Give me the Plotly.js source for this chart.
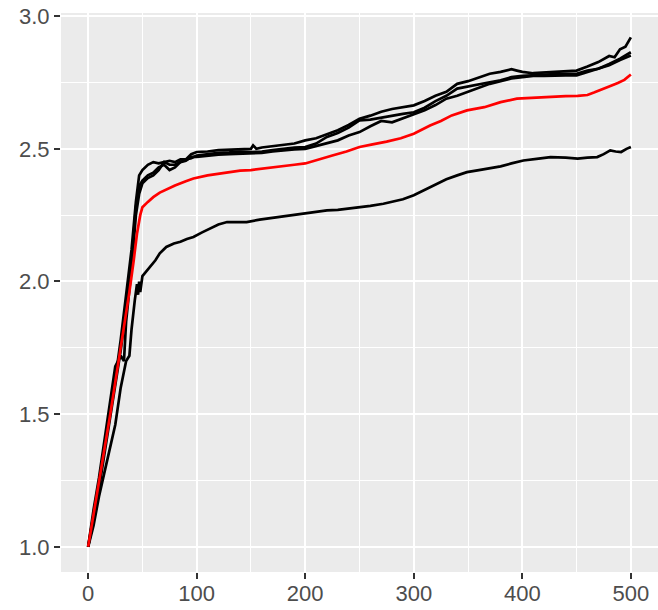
<!DOCTYPE html>
<html>
<head>
<meta charset="utf-8">
<script src="https://cdn.plot.ly/plotly-3.0.1.min.js"></script>
<style>html,body{margin:0;padding:0;background:#fff}#chart{width:658px;height:610px}</style>
</head>
<body>
<div id="chart"></div>
<script>
// Series A (top line at the end)
const xA = [0,5,10,15,20,25,30,35,40,44,47,50,55,60,65,70,75,80,85,90,95,100,110,120,130,140,150,152,155,160,170,180,190,200,210,220,230,240,250,260,270,280,290,300,310,320,330,340,350,360,370,380,390,395,400,410,420,430,440,450,460,470,480,485,490,495,500];
const yA = [1.00,1.12,1.24,1.38,1.50,1.63,1.78,1.95,2.12,2.30,2.40,2.42,2.44,2.45,2.445,2.45,2.455,2.45,2.46,2.46,2.48,2.488,2.49,2.495,2.497,2.50,2.50,2.513,2.50,2.505,2.51,2.515,2.52,2.532,2.54,2.555,2.57,2.59,2.613,2.625,2.64,2.65,2.658,2.664,2.68,2.70,2.715,2.745,2.755,2.77,2.783,2.79,2.80,2.795,2.79,2.785,2.788,2.79,2.792,2.795,2.81,2.827,2.85,2.845,2.875,2.885,2.92];

// Series B
const xB = [0,5,10,15,20,25,30,35,40,44,47,50,55,60,65,70,75,80,85,90,95,100,110,120,130,140,150,160,170,180,190,200,210,220,230,240,250,260,270,280,290,300,310,320,330,340,350,360,370,380,390,400,410,420,430,440,450,460,470,480,490,500];
const yB = [1.00,1.10,1.22,1.35,1.47,1.60,1.74,1.90,2.08,2.28,2.36,2.38,2.40,2.41,2.43,2.44,2.42,2.43,2.45,2.46,2.465,2.475,2.48,2.485,2.487,2.49,2.488,2.49,2.495,2.50,2.505,2.507,2.52,2.545,2.56,2.58,2.607,2.61,2.618,2.625,2.632,2.638,2.655,2.68,2.70,2.727,2.735,2.745,2.751,2.758,2.77,2.775,2.778,2.78,2.782,2.783,2.783,2.795,2.802,2.82,2.84,2.864];

// Series C
const xC = [0,5,10,15,20,25,30,33,35,40,44,47,50,55,60,65,70,75,80,85,90,95,100,110,120,130,140,150,160,170,180,190,200,210,220,230,240,250,260,270,280,290,300,310,320,330,340,350,360,370,380,390,400,410,420,430,440,450,460,470,480,490,500];
const yC = [1.00,1.14,1.26,1.40,1.55,1.68,1.72,1.70,1.85,2.05,2.25,2.33,2.37,2.39,2.40,2.42,2.45,2.44,2.44,2.45,2.455,2.47,2.47,2.475,2.478,2.48,2.482,2.482,2.485,2.49,2.495,2.498,2.50,2.51,2.52,2.532,2.55,2.563,2.585,2.605,2.60,2.615,2.632,2.645,2.665,2.689,2.70,2.715,2.73,2.745,2.755,2.765,2.77,2.775,2.775,2.777,2.777,2.777,2.79,2.80,2.815,2.835,2.852];

// Series D (bottom line)
const xD = [0,5,10,15,20,25,30,35,38,40,43,45,46,47,48,50,53,57,62,66,72,79,85,91,97,105,112,120,128,135,146,158,170,180,190,199,210,220,230,242,250,260,272,280,290,300,310,318,330,340,349,360,370,380,390,401,415,426,440,451,460,469,475,481,486,491,496,500];
const yD = [1.00,1.08,1.19,1.28,1.38,1.46,1.60,1.70,1.72,1.82,1.93,1.99,1.95,2.00,1.96,2.02,2.035,2.055,2.08,2.106,2.13,2.143,2.15,2.16,2.168,2.185,2.20,2.215,2.224,2.225,2.224,2.233,2.24,2.245,2.25,2.256,2.262,2.268,2.27,2.275,2.28,2.285,2.293,2.30,2.31,2.325,2.345,2.362,2.385,2.40,2.412,2.42,2.428,2.434,2.445,2.456,2.463,2.469,2.467,2.463,2.467,2.469,2.48,2.494,2.49,2.488,2.50,2.507];

// Red series (average)
const xR = [0,5,10,15,20,25,30,35,38,42,45,48,50,55,60,66,73,80,90,97,110,128,140,150,159,175,190,200,212,225,238,250,262,275,288,300,315,325,335,349,365,380,395,410,426,440,451,460,466,472,480,488,494,500];
const yR = [1.00,1.12,1.24,1.37,1.49,1.62,1.75,1.87,1.96,2.08,2.18,2.25,2.28,2.30,2.318,2.335,2.35,2.362,2.378,2.388,2.40,2.412,2.418,2.42,2.425,2.432,2.44,2.445,2.458,2.475,2.49,2.507,2.517,2.527,2.54,2.557,2.588,2.605,2.626,2.645,2.657,2.676,2.689,2.693,2.697,2.699,2.70,2.703,2.712,2.723,2.735,2.748,2.76,2.78];

const xTicks = [0,100,200,300,400,500];
const yTicks = [1.0,1.5,2.0,2.5,3.0];
const yTickText = ['1.0','1.5','2.0','2.5','3.0'];

const blackSeries = [[xA,yA],[xB,yB],[xC,yC],[xD,yD]];
const traces = blackSeries.map(s => ({
  x: s[0], y: s[1], type: 'scatter', mode: 'lines',
  line: {color: '#000000', width: 2.7}, hoverinfo: 'skip'
}));
traces.push({x: xR, y: yR, type: 'scatter', mode: 'lines', line: {color: '#FF0000', width: 2.7}, hoverinfo: 'skip'});

const tickFont = {family: 'Liberation Sans, Arial, sans-serif', size: 22, color: '#4D4D4D'};
const layout = {
  width: 658, height: 610,
  margin: {l: 61, r: 0, t: 13, b: 38, pad: 0},
  paper_bgcolor: '#FFFFFF', plot_bgcolor: '#EBEBEB',
  showlegend: false,
  xaxis: {
    range: [-25, 525], tickvals: xTicks, ticktext: xTicks.map(String),
    ticks: 'outside', ticklen: 6, tickwidth: 2, tickcolor: '#333333',
    ticklabelstandoff: -4,
    showgrid: true, gridcolor: '#FFFFFF', gridwidth: 2,
    minor: {dtick: 50, tick0: 0, showgrid: true, gridcolor: '#FFFFFF', gridwidth: 1, ticks: ''},
    zeroline: false, showline: false, tickfont: tickFont
  },
  yaxis: {
    range: [0.905, 3.012], tickvals: yTicks, ticktext: yTickText,
    ticks: 'outside', ticklen: 6, tickwidth: 2, tickcolor: '#333333',
    showgrid: true, gridcolor: '#FFFFFF', gridwidth: 2,
    minor: {dtick: 0.25, tick0: 0, showgrid: true, gridcolor: '#FFFFFF', gridwidth: 1, ticks: ''},
    zeroline: false, showline: false, tickfont: tickFont
  }
};
Plotly.newPlot('chart', traces, layout, {staticPlot: true, displayModeBar: false});
</script>
</body>
</html>
